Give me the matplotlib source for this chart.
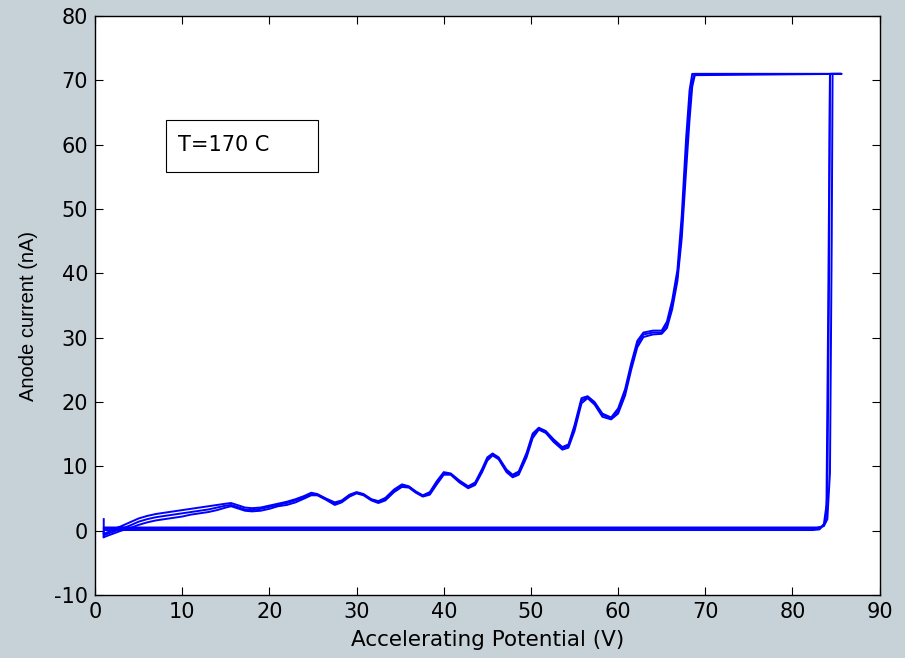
import matplotlib
matplotlib.use('Agg')
import matplotlib.pyplot as plt
from matplotlib.patches import Rectangle

# Curva de Franck-Hertz a T=170 C, tres barridos superpuestos
volt_up = [1.0, 2.0, 3.0, 4.0, 5.0, 6.0, 7.0, 8.0, 9.0, 10.0, 11.0, 12.0,
           13.0, 14.0, 15.0, 15.6, 16.3, 17.2, 18.0, 19.0, 20.0, 21.0, 22.0, 23.0,
           24.0, 24.8, 25.5, 26.5, 27.5, 28.3, 29.2, 30.0, 30.8, 31.7, 32.5, 33.3,
           34.3, 35.2, 36.0, 36.8, 37.6, 38.4, 39.2, 40.0, 40.8, 41.8, 42.8, 43.6,
           44.4, 45.0, 45.6, 46.3, 47.2, 47.9, 48.6, 49.5, 50.2, 50.9, 51.7, 52.6,
           53.6, 54.3, 55.0, 55.8, 56.5, 57.3, 58.2, 59.2, 60.0, 60.8, 61.5, 62.2,
           62.9, 64.0, 65.0, 65.6, 66.2, 66.8, 67.3, 67.8, 68.2, 68.5, 68.8, 85.6]

cur_up_1 = [-0.7, -0.2, 0.3, 0.8, 1.4, 1.8, 2.1, 2.3, 2.5, 2.7, 2.9, 3.1,
            3.3, 3.6, 3.9, 4.0, 3.7, 3.3, 3.2, 3.4, 3.7, 4.0, 4.3, 4.7,
            5.2, 5.7, 5.6, 4.9, 4.2, 4.6, 5.5, 5.9, 5.6, 4.8, 4.5, 4.9,
            6.2, 7.0, 6.8, 6.0, 5.4, 5.8, 7.5, 8.9, 8.8, 7.6, 6.8, 7.3,
            9.4, 11.2, 11.9, 11.2, 9.3, 8.5, 9.0, 11.8, 14.8, 15.9, 15.3, 14.0,
            12.8, 13.2, 16.0, 20.2, 20.8, 19.8, 18.0, 17.5, 18.6, 21.5, 25.5, 29.0,
            30.5, 30.8, 30.8, 32.0, 35.0, 39.5, 47.0, 58.0, 66.0, 70.0, 71.0, 71.0]

cur_up_2 = [-0.5, 0.1, 0.7, 1.3, 1.9, 2.3, 2.6, 2.8, 3.0, 3.2, 3.4, 3.6,
            3.8, 4.0, 4.2, 4.3, 4.0, 3.6, 3.5, 3.6, 3.9, 4.2, 4.5, 4.9,
            5.4, 5.9, 5.7, 5.0, 4.4, 4.7, 5.6, 6.0, 5.7, 4.9, 4.6, 5.1,
            6.4, 7.2, 6.9, 6.1, 5.5, 6.0, 7.7, 9.1, 8.9, 7.8, 6.9, 7.5,
            9.6, 11.4, 12.0, 11.4, 9.5, 8.7, 9.2, 12.1, 15.1, 16.0, 15.5, 14.2,
            13.0, 13.4, 16.4, 20.6, 20.9, 20.0, 18.2, 17.6, 19.0, 22.0, 26.0, 29.5,
            30.8, 31.1, 31.1, 32.5, 35.8, 40.5, 49.0, 61.0, 68.5, 71.0, 71.0, 71.0]

cur_up_3 = [-1.0, -0.5, 0.0, 0.4, 0.9, 1.3, 1.6, 1.8, 2.0, 2.2, 2.5, 2.7,
            2.9, 3.2, 3.6, 3.8, 3.5, 3.1, 3.0, 3.1, 3.4, 3.8, 4.0, 4.4,
            5.0, 5.5, 5.5, 4.8, 4.0, 4.4, 5.3, 5.8, 5.5, 4.7, 4.3, 4.7,
            6.0, 6.8, 6.7, 5.9, 5.3, 5.6, 7.2, 8.7, 8.7, 7.5, 6.6, 7.1,
            9.1, 10.9, 11.7, 11.1, 9.1, 8.3, 8.7, 11.4, 14.4, 15.7, 15.2, 13.8,
            12.6, 12.9, 15.5, 19.8, 20.6, 19.6, 17.7, 17.3, 18.2, 21.0, 25.0, 28.5,
            30.1, 30.5, 30.6, 31.5, 34.4, 38.8, 45.5, 56.0, 64.0, 69.0, 70.8, 71.0]

# bajada del barrido (vuelta a 1 V)
volt_down_1 = [84.3, 84.2, 84.0, 83.8, 83.3, 82.5, 75.0, 65.0, 55.0, 45.0, 35.0, 25.0, 15.0, 5.0, 1.0, 1.0]
cur_down_1 = [71.0, 40.0, 6.0, 1.4, 0.5, 0.3, 0.3, 0.3, 0.3, 0.3, 0.3, 0.3, 0.3, 0.3, 0.3, 1.8]

volt_down_2 = [84.6, 84.5, 84.3, 84.0, 83.6, 82.8, 75.0, 65.0, 55.0, 45.0, 35.0, 25.0, 15.0, 5.0, 1.0, 1.0]
cur_down_2 = [71.0, 45.0, 9.0, 1.8, 0.7, 0.5, 0.5, 0.5, 0.5, 0.5, 0.5, 0.5, 0.5, 0.5, 0.5, -0.4]

volt_down_3 = [84.3, 84.1, 83.9, 83.6, 83.1, 82.3, 75.0, 65.0, 55.0, 45.0, 35.0, 25.0, 15.0, 5.0, 1.0, 1.0]
cur_down_3 = [71.0, 35.0, 4.0, 1.0, 0.2, 0.1, 0.1, 0.1, 0.1, 0.1, 0.1, 0.1, 0.1, 0.1, 0.1, -1.0]

barridos = [
    (volt_up + volt_down_1, cur_up_1 + cur_down_1),
    (volt_up + volt_down_2, cur_up_2 + cur_down_2),
    (volt_up + volt_down_3, cur_up_3 + cur_down_3),
]

fondo = '#c7d1d8'
plt.rcParams['font.family'] = ['DejaVu Sans']
plt.rcParams['axes.unicode_minus'] = False

fig = plt.figure(figsize=(9.05, 6.58), dpi=100, facecolor=fondo)
ax = fig.add_axes([0.105, 0.0957, 0.867, 0.88])

for v, i in barridos:
    ax.plot(v, i, color='#0000ff', lw=1.4)

ax.set_xlim(0, 90)
ax.set_ylim(-10, 80)
ax.set_xticks(range(0, 91, 10))
ax.set_yticks(range(-10, 81, 10))
ax.tick_params(direction='in', length=5.5, width=0.8, labelsize=15,
               top=True, right=True, pad=5)
for s in ax.spines.values():
    s.set_linewidth(1.0)

ax.set_xlabel('Accelerating Potential (V)', fontsize=15.5, labelpad=6)
ax.set_ylabel('Anode current (nA)', fontsize=14.5,
              family=['Liberation Sans', 'DejaVu Sans'])
ax.yaxis.set_label_coords(-0.073, 0.482)

# recuadro con la temperatura
ax.add_patch(Rectangle((0.0904, 0.7306), 0.1937, 0.0894, transform=ax.transAxes,
                       facecolor='white', edgecolor='black', lw=0.8, zorder=3))
ax.text(0.106, 0.778, 'T=170 C', transform=ax.transAxes, fontsize=15,
        va='center', ha='left', zorder=4)

plt.savefig('out.png', dpi=100, facecolor=fondo)
plt.close()
